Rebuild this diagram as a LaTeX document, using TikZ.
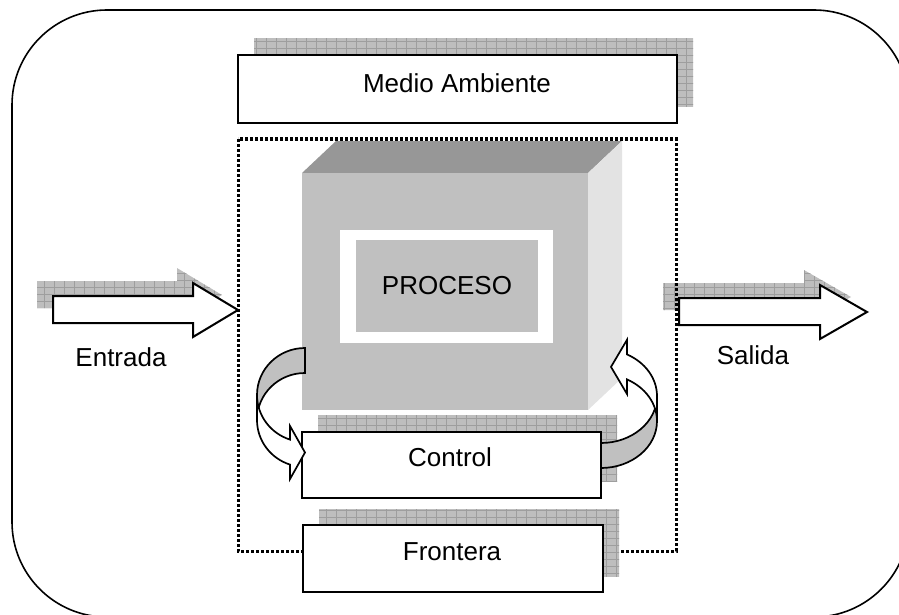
\documentclass[tikz,border=0pt]{standalone}
\usepackage{fontspec}
\setmainfont{Liberation Sans}
\definecolor{cubefront}{HTML}{C0C0C0}
\definecolor{cubetop}{HTML}{979797}
\definecolor{cubeside}{HTML}{E3E3E3}
\definecolor{shfill}{HTML}{BEBEBE}
\definecolor{shline}{HTML}{9E9E9E}
\tikzset{
  boxnode/.style={draw=black, line width=2pt, fill=white, rectangle, inner sep=0pt},
  lbl/.style={inner sep=0pt, font=\fontsize{26}{30}\selectfont},
  shgrid/.style={shline, line width=0.6pt},
  ribbon/.style={draw=black, line width=1.7pt, line join=miter},
  blockarrow/.style={draw=black, fill=white, line width=2pt, line join=miter},
}
\newcommand\gridshadow[2]{%
  \begin{scope}[shift={#1}]
    \clip #2;
    \fill[shfill] (-20,-20) rectangle (920,640);
    \foreach \gx in {-20,-10,...,920} {\draw[shgrid] (\gx,-20) -- (\gx,640);}
    \foreach \gy in {-20,-13,...,640} {\draw[shgrid] (-20,\gy) -- (920,\gy);}
  \end{scope}}
\begin{document}
\begin{tikzpicture}[x=1pt,y=-1pt]
\useasboundingbox (0,0) rectangle (899,615);
\begin{scope}
  \clip (0,0) rectangle (899,615);
  \draw[line width=1.6pt, rounded corners=95pt] (12,10) rectangle (909,617);
\end{scope}

% Medio Ambiente
\gridshadow{(16,-16)}{(238,55) rectangle (677,123)}
\node[boxnode, minimum width=439pt, minimum height=68pt] (medio) at (457.5,89) {};
\node[lbl] (mediotxt) at (457,83) {Medio Ambiente};

% cube
\fill[cubetop] (302,173) -- (336,141) -- (622,141) -- (588,173) -- cycle;
\fill[cubeside] (588,173) -- (622,141) -- (622,378) -- (588,410) -- cycle;
\fill[cubefront] (302,173) rectangle (588,410);
\fill[white] (340,230) rectangle (553,343);
\node[fill=cubefront, minimum width=182pt, minimum height=92pt, inner sep=0pt,
      font=\fontsize{26}{30}\selectfont] (proceso) at (447,286) {PROCESO};

% input / output arrows
\gridshadow{(-16,-15)}{(53,296) -- (193,296) -- (193,283) -- (238,310) -- (193,337) -- (193,323) -- (53,323) -- cycle}
\gridshadow{(-16,-15)}{(679,298) -- (820,298) -- (820,285) -- (867,312) -- (820,339) -- (820,325) -- (679,325) -- cycle}

% boundary
\draw[line width=3pt, dash pattern=on 3pt off 2pt] (238,139) rectangle (676,551);

\draw[blockarrow] (53,296) -- (193,296) -- (193,283) -- (238,310) -- (193,337) -- (193,323) -- (53,323) -- cycle;
\draw[blockarrow] (679,298) -- (820,298) -- (820,285) -- (867,312) -- (820,339) -- (820,325) -- (679,325) -- cycle;
\node[lbl] (entrada) at (121,357) {Entrada};
\node[lbl] (salida) at (753,355) {Salida};

% Control
\gridshadow{(16,-17)}{(302,432) rectangle (601,498)}
\node[boxnode, minimum width=299pt, minimum height=66pt] (control) at (451.5,465) {};
\node[lbl] (controltxt) at (450,457) {Control};

% curved arrows
\begin{scope}[shift={(305,348)}]
  \draw[ribbon, fill=cubefront] (0,0) .. controls (-26.5,0) and (-48,21) .. (-48,47) -- (-48,72)
     .. controls (-48,46) and (-26.5,25) .. (0,25) -- cycle;
  \draw[ribbon, fill=white] (-48,47) .. controls (-48,67.3) and (-34.7,85.3) .. (-15,91.6)
     -- (-15,78) -- (0,104.5) -- (-15,131) -- (-15,116.6)
     .. controls (-34.7,110.3) and (-48,92.3) .. (-48,72) -- cycle;
\end{scope}
\begin{scope}[shift={(601,468)}, xscale=-1, yscale=-1]
  \draw[ribbon, fill=cubefront] (0,0) .. controls (-30.9,0) and (-56,21) .. (-56,47) -- (-56,72)
     .. controls (-56,46) and (-30.9,25) .. (0,25) -- cycle;
  \draw[ribbon, fill=white] (-56,47) .. controls (-56,64.5) and (-44.4,80.5) .. (-26,88.6)
     -- (-26,74) -- (-10,101.1) -- (-26,128.2) -- (-26,113.6)
     .. controls (-44.4,105.5) and (-56,89.5) .. (-56,72) -- cycle;
\end{scope}

% Frontera
\gridshadow{(16,-16)}{(303,525) rectangle (603,592)}
\node[boxnode, minimum width=300pt, minimum height=67pt] (frontera) at (453,558.5) {};
\node[lbl] (fronteratxt) at (452,552) {Frontera};
\end{tikzpicture}
\end{document}
